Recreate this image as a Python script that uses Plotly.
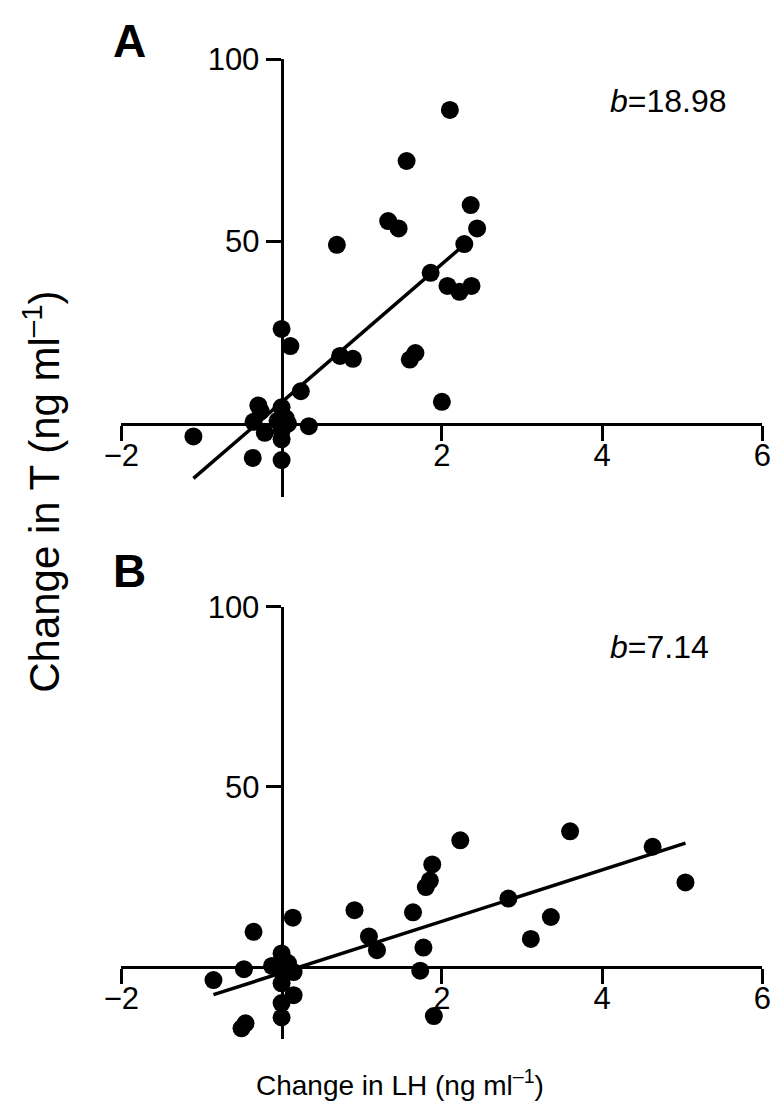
import plotly.graph_objects as go

# ---- data ----
lh_a = [2.10, 1.56, 2.36, 1.33, 1.46, 2.44, 0.69, 2.28, 1.86, 2.07, 2.22, 2.37,
        0.00, 0.11, 0.73, 0.89, 1.60, 1.67, 0.24, 2.00, -0.29, -0.26, -0.35, -0.21,
        -1.10, -0.36, 0.00, 0.34, 0.00, 0.05, 0.08, -0.05, 0.00, 0.00]
t_a = [86.1, 72.1, 60.0, 55.6, 53.6, 53.6, 49.1, 49.3, 41.4, 37.8, 36.2, 37.8,
       26.0, 21.3, 18.6, 17.8, 17.6, 19.4, 8.9, 6.0, 5.0, 3.4, 0.5, -2.5,
       -3.5, -9.4, -10.0, -0.7, 4.5, 1.5, 0.0, 0.8, -2.0, -4.3]

lh_b = [3.60, 2.23, 4.63, 1.88, 1.85, 1.80, 5.04, 2.83, 0.91, 1.64, 3.36, 0.14,
        -0.35, 1.09, 1.19, 1.77, 3.11, 1.73, -0.47, -0.85, 1.90, -0.45, -0.50,
        0.00, -0.12, 0.08, 0.15, 0.00, 0.15, 0.00, 0.00, 0.02]
t_b = [37.7, 35.2, 33.4, 28.5, 24.0, 22.2, 23.5, 19.0, 15.8, 15.2, 13.9, 13.7,
       9.8, 8.5, 4.7, 5.4, 7.8, -1.0, -0.6, -3.6, -13.6, -15.6, -17.0,
       3.8, 0.3, 1.1, -1.4, -4.5, -7.8, -10.0, -14.0, -2.0]

slope_a, intercept_a, fit_range_a = 18.98, 5.85, [-1.10, 2.25]
slope_b, intercept_b, fit_range_b = 7.14, -1.60, [-0.85, 5.04]

x_ticks = [-2, 2, 4, 6]
x_tick_text = ["\u22122", "2", "4", "6"]
y_ticks = [50, 100]
x_range = [-2, 6]
y_range = [-20, 100]

FONT = "Liberation Sans, Arial, sans-serif"
W, H = 783, 1111

fig = go.Figure()

def add_panel(xs, ys, slope, intercept, fr, xa, ya):
    fig.add_trace(go.Scatter(
        x=fr, y=[intercept + slope * v for v in fr], mode="lines",
        line=dict(color="black", width=3.5), xaxis=xa, yaxis=ya, showlegend=False))
    fig.add_trace(go.Scatter(
        x=xs, y=ys, mode="markers",
        marker=dict(color="black", size=18, line=dict(width=0)),
        xaxis=xa, yaxis=ya, showlegend=False))

add_panel(lh_a, t_a, slope_a, intercept_a, fit_range_a, "x", "y")
add_panel(lh_b, t_b, slope_b, intercept_b, fit_range_b, "x2", "y2")

x_dom = [107 / W, 771 / W]
ydom_a = [1 - 487 / H, 1 - 43 / H]
ydom_b = [1 - 1038 / H, 1 - 599 / H]

def frac0(dom, rng):
    return dom[0] + (0 - rng[0]) / (rng[1] - rng[0]) * (dom[1] - dom[0])

common_x = dict(range=x_range, tickvals=x_ticks, ticktext=x_tick_text,
                showgrid=False, zeroline=False, showline=True, linecolor="black",
                linewidth=3, ticks="outside", ticklen=15, tickwidth=3,
                tickcolor="black", tickfont=dict(family=FONT, size=31, color="black"),
                ticklabelstandoff=-12,
                domain=x_dom, anchor="free", fixedrange=True)
common_y = dict(range=y_range, tickvals=y_ticks, showgrid=False, zeroline=False,
                showline=True, linecolor="black", linewidth=3, ticks="outside",
                ticklen=15, tickwidth=3, tickcolor="black",
                tickfont=dict(family=FONT, size=31, color="black"),
                anchor="free", side="left", fixedrange=True)

yx0 = frac0(x_dom, x_range)

fig.update_layout(
    width=W, height=H, margin=dict(l=0, r=0, t=0, b=0),
    paper_bgcolor="white", plot_bgcolor="white", showlegend=False,
    xaxis=dict(**common_x, position=frac0(ydom_a, y_range)),
    yaxis=dict(**common_y, domain=ydom_a, position=yx0),
    xaxis2=dict(**common_x, position=frac0(ydom_b, y_range)),
    yaxis2=dict(**common_y, domain=ydom_b, position=yx0),
)

ann = [
    dict(text="<b>A</b>", x=96 / W, y=1 - 24 / H, size=46),
    dict(text="<b>B</b>", x=96 / W, y=1 - 563 / H, size=46),
    dict(text="<i>b</i>=18.98", x=611 / W, y=1 - 85 / H, size=32),
    dict(text="<i>b</i>=7.14", x=611 / W, y=1 - 640 / H, size=32),
]
annotations = []
for a in ann:
    annotations.append(dict(text=a["text"], x=a["x"], y=a["y"], xref="paper", yref="paper",
                            xanchor="left", yanchor="middle", showarrow=False,
                            font=dict(family=FONT, color="black", size=a["size"])))
annotations.append(dict(text="Change in LH (ng ml<sup>\u20131</sup>)", x=396 / W, y=1 - 1083 / H,
                        xref="paper", yref="paper", xanchor="center", yanchor="middle",
                        showarrow=False, font=dict(family=FONT, size=28, color="black")))
annotations.append(dict(text="Change in T (ng ml<sup>\u20131</sup>)", x=24 / W, y=1 - 482 / H,
                        xref="paper", yref="paper", xanchor="center", yanchor="middle",
                        textangle=-90, showarrow=False,
                        font=dict(family=FONT, size=42, color="black")))
fig.update_layout(annotations=annotations)

fig.write_html("out.html", config={"displayModeBar": False},
               post_script="document.body.style.margin='0';document.body.style.overflow='hidden';")
